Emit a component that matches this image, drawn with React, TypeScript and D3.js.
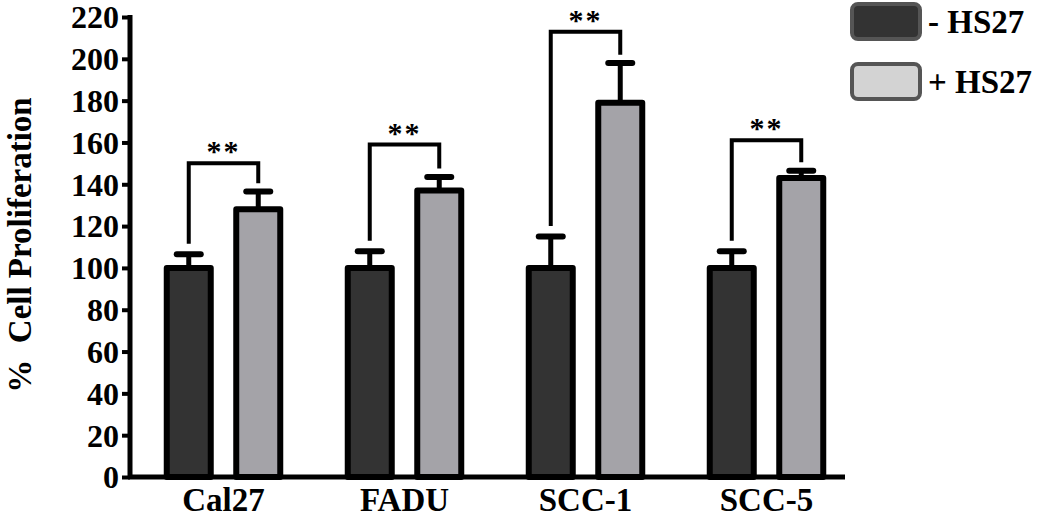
import * as d3 from 'd3';
import React, { useEffect, useRef } from 'react';

const categories = ['Cal27', 'FADU', 'SCC-1', 'SCC-5'];
const seriesNames = ['- HS27', '+ HS27'];
const withoutHS27 = [100, 100, 100, 100];
const withoutHS27Err = [6.5, 8, 15, 8];
const withHS27 = [128, 137, 179, 143];
const withHS27Err = [8.5, 6.5, 19, 3.5];
const bracketTop = [150, 159, 213, 161];
const yTicks = [0, 20, 40, 60, 80, 100, 120, 140, 160, 180, 200, 220];

const W = 1050;
const H = 520;
const FONT = '"Liberation Serif", "Times New Roman", serif';

export default function App() {
	const ref = useRef<SVGSVGElement>(null);

	useEffect(() => {
		const svg = d3.select(ref.current);
		svg.selectAll('*').remove();

		const y = d3.scaleLinear().domain([0, 220]).range([477, 17]);
		const x0 = d3.scaleBand().domain(categories).range([134, 858]).padding(0);
		const x1 = d3.scaleBand().domain(seriesNames).range([20, 159]);
		const barW = 44;
		const fills = ['#333333', '#a4a3a8'];

		const rows = categories.map((c, i) => ({
			cat: c,
			vals: [
				{ s: seriesNames[0], v: withoutHS27[i], e: withoutHS27Err[i] },
				{ s: seriesNames[1], v: withHS27[i], e: withHS27Err[i] },
			],
		}));
		const cx = (c: string, s: string) => (x0(c) as number) + (x1(s) as number) + x1.bandwidth() / 2;

		// bars + error bars
		const g = svg.append('g');
		rows.forEach(r => {
			r.vals.forEach((d, j) => {
				const c = cx(r.cat, d.s);
				g.append('line')
					.attr('x1', c).attr('x2', c)
					.attr('y1', y(d.v)).attr('y2', y(d.v + d.e))
					.attr('stroke', '#000').attr('stroke-width', 5);
				g.append('line')
					.attr('x1', c - 12).attr('x2', c + 12)
					.attr('y1', y(d.v + d.e)).attr('y2', y(d.v + d.e))
					.attr('stroke', '#000').attr('stroke-width', 6)
					.attr('stroke-linecap', 'round');
				g.append('rect')
					.attr('x', c - barW / 2)
					.attr('y', y(d.v))
					.attr('width', barW)
					.attr('height', y(0) - y(d.v))
					.attr('fill', fills[j])
					.attr('stroke', '#000')
					.attr('stroke-width', 6)
					.attr('stroke-linejoin', 'round');
			});
		});

		// significance brackets
		rows.forEach((r, i) => {
			const a = cx(r.cat, seriesNames[0]);
			const b = cx(r.cat, seriesNames[1]);
			const top = y(bracketTop[i]);
			const la = y(withoutHS27[i] + withoutHS27Err[i] + 5);
			const lb = y(withHS27[i] + withHS27Err[i] + 4);
			g.append('path')
				.attr('d', `M${a},${la}V${top}H${b}V${lb}`)
				.attr('fill', 'none')
				.attr('stroke', '#000')
				.attr('stroke-width', 4);
			g.append('text')
				.attr('x', (a + b) / 2)
				.attr('y', top - 2)
				.attr('text-anchor', 'middle')
				.attr('font-family', FONT)
				.attr('font-size', 30)
				.attr('font-weight', 'bold')
				.attr('letter-spacing', 2)
				.text('**');
		});

		// y axis
		const yAxis = svg.append('g')
			.attr('transform', 'translate(130,0)')
			.call(d3.axisLeft(y).tickValues(yTicks).tickSize(8).tickPadding(3).tickSizeOuter(0));
		yAxis.select('.domain').attr('stroke-width', 5).attr('d', `M0,${y(220) - 2}V${y(0) + 2}`);
		yAxis.selectAll('.tick line').attr('stroke-width', 4);
		yAxis.selectAll('.tick text')
			.attr('font-family', FONT)
			.attr('font-size', 32)
			.attr('font-weight', 'bold')
			.attr('fill', '#000')
			.attr('dy', '0.34em');

		// x axis
		svg.append('line')
			.attr('x1', 128).attr('x2', 845)
			.attr('y1', y(0)).attr('y2', y(0))
			.attr('stroke', '#000').attr('stroke-width', 5);
		svg.append('g')
			.selectAll('text')
			.data(categories)
			.join('text')
			.attr('x', d => (x0(d) as number) + (x1(seriesNames[0]) as number) + x1.step())
			.attr('y', 511)
			.attr('text-anchor', 'middle')
			.attr('font-family', FONT)
			.attr('font-size', 33)
			.attr('font-weight', 'bold')
			.text(d => d);

		// y title
		svg.append('text')
			.attr('transform', `translate(31,${245}) rotate(-90)`)
			.attr('text-anchor', 'middle')
			.attr('font-family', FONT)
			.attr('font-size', 33)
			.attr('font-weight', 'bold')
			.attr('xml:space', 'preserve')
			.text('%  Cell Proliferation');

		// legend
		const legendFills = ['#333333', '#d3d3d3'];
		const lg = svg.append('g');
		seriesNames.forEach((s, i) => {
			lg.append('rect')
				.attr('x', 852).attr('y', 4 + i * 60)
				.attr('width', 68).attr('height', 35)
				.attr('rx', 6)
				.attr('fill', legendFills[i])
				.attr('stroke', '#555')
				.attr('stroke-width', 4);
			lg.append('text')
				.attr('x', 928).attr('y', 33 + i * 60)
				.attr('font-family', FONT)
				.attr('font-size', 33)
				.attr('font-weight', 'bold')
				.text(s);
		});
	}, []);

	return (
		<svg
			ref={ref}
			width={W}
			height={H}
			style={{ position: 'absolute', left: 0, top: 0, background: '#fff' }}
		/>
	);
}
